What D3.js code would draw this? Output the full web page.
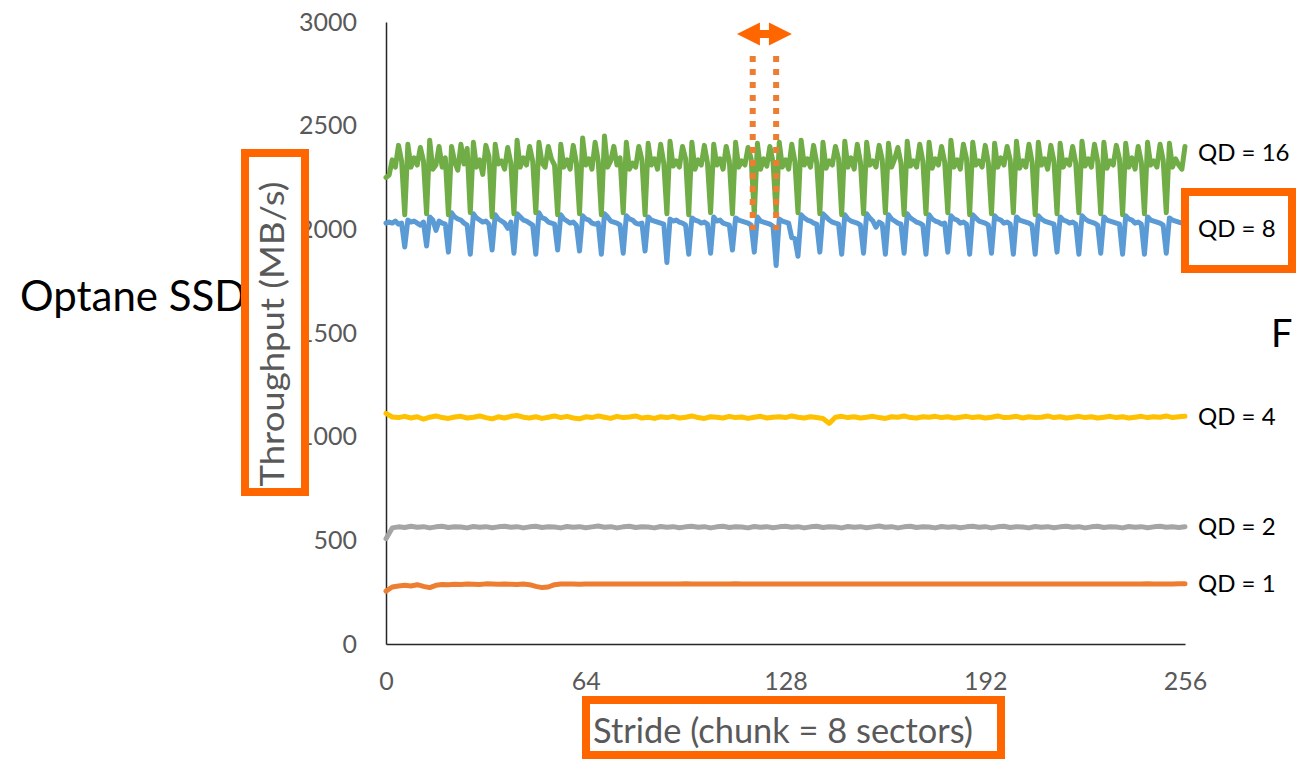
<!DOCTYPE html>
<html>
<head>
<meta charset="utf-8">
<script src="https://cdn.jsdelivr.net/npm/d3@7"></script>
<style>
  html, body { margin: 0; padding: 0; background: #fff; }
  svg { display: block; font-family: Lato, "Open Sans", sans-serif; }
</style>
</head>
<body>
<div id="chart"></div>
<script>
// throughput (MB/s) per stride
// qd16 / qd8 sampled at every stride 0..256
const qd16 = [
  2250, 2262, 2335, 2300, 2405, 2330, 2070,
  2410, 2300, 2345, 2310, 2395, 2330, 2075,
  2430, 2290, 2310, 2400, 2300, 2345, 2070,
  2400, 2325, 2285, 2410, 2315, 2390, 2080,
  2420, 2300, 2335, 2265, 2405, 2350, 2060,
  2410, 2315, 2330, 2290, 2395, 2320, 2075,
  2430, 2300, 2345, 2310, 2400, 2330, 2080,
  2420, 2320, 2300, 2400, 2340, 2310, 2070,
  2410, 2300, 2335, 2290, 2405, 2320, 2075,
  2440, 2310, 2340, 2290, 2420, 2330, 2070,
  2450, 2300, 2330, 2400, 2310, 2345, 2080,
  2420, 2290, 2320, 2300, 2400, 2335, 2070,
  2415, 2310, 2340, 2290, 2410, 2320, 2075,
  2425, 2305, 2330, 2300, 2400, 2340, 2070,
  2420, 2290, 2335, 2310, 2405, 2320, 2080,
  2410, 2310, 2340, 2290, 2400, 2330, 2075,
  2420, 2300, 2330, 2310, 2395, 2340, 2070,
  2415, 2290, 2340, 2305, 2400, 2325, 2075,
  2420, 2300, 2335, 2290, 2410, 2330, 2080,
  2430, 2310, 2340, 2300, 2405, 2320, 2075,
  2420, 2295, 2330, 2310, 2400, 2340, 2070,
  2425, 2300, 2345, 2290, 2410, 2325, 2075,
  2420, 2310, 2330, 2300, 2405, 2335, 2080,
  2415, 2300, 2340, 2395, 2320, 2070,
  2425, 2305, 2330, 2300, 2410, 2330, 2075,
  2420, 2295, 2340, 2310, 2400, 2325, 2080,
  2430, 2300, 2335, 2290, 2410, 2340, 2070,
  2420, 2310, 2330, 2300, 2405, 2320, 2075,
  2415, 2300, 2345, 2310, 2400, 2335, 2080,
  2425, 2295, 2330, 2300, 2410, 2325, 2070,
  2420, 2310, 2340, 2290, 2405, 2330, 2075,
  2415, 2300, 2335, 2310, 2400, 2320, 2080,
  2425, 2305, 2340, 2300, 2410, 2330, 2075,
  2420, 2295, 2330, 2310, 2405, 2340, 2070,
  2415, 2300, 2345, 2290, 2400, 2325, 2075,
  2420, 2310, 2330, 2300, 2410, 2335, 2080,
  2415, 2300, 2340, 2310, 2290, 2400
];

const qd8 = [
  2030, 2035, 2030, 2040, 2025, 2030, 1915,
  2045, 2035, 2040, 2030, 2020, 2035, 1920,
  2060, 2045, 1995, 2040, 2030, 2025, 1890,
  2080, 2060, 2050, 2045, 2030, 2020, 1880,
  2075, 2055, 2045, 2035, 2040, 2025, 1900,
  2070, 2050, 2040, 2030, 2005, 2035, 1885,
  2075, 2060, 2045, 2040, 2030, 2020, 1880,
  2080, 2055, 2050, 2035, 2030, 2025, 1900,
  2070, 2050, 2040, 2030, 2035, 2020, 1895,
  2065, 2050, 2045, 2030, 2025, 2030, 1880,
  2075, 2060, 2040, 2035, 2030, 2020, 1885,
  2065, 2050, 2045, 2030, 2025, 2030, 1895,
  2060, 2045, 2040, 2035, 2030, 2025, 1840,
  2050, 2040, 2045, 2035, 2030, 2020, 1880,
  2055, 2045, 2040, 2030, 2035, 2025, 1885,
  2060, 2040, 2045, 2030, 2025, 2020, 1900,
  2055, 2045, 2040, 2035, 2030, 2020, 1890,
  2060, 2040, 2035, 2030, 2025, 2015, 1825,
  2050, 2040, 2035, 2030, 1960, 1955, 1870,
  2070, 2055, 2045, 2040, 2030, 2025, 1890,
  2075, 2060, 2045, 2035, 2030, 2025, 1880,
  2070, 2050, 2040, 2035, 2030, 2020, 1885,
  2075, 2055, 2040, 2010, 2035, 2025, 1880,
  2070, 2050, 2040, 2030, 2025, 1885,
  2075, 2055, 2045, 2035, 2030, 2020, 1880,
  2070, 2050, 2040, 2035, 2025, 2030, 1890,
  2065, 2050, 2045, 2030, 2035, 2025, 1880,
  2070, 2055, 2040, 2035, 2030, 2020, 1885,
  2065, 2050, 2045, 2030, 2035, 2025, 1880,
  2060, 2045, 2040, 2035, 2030, 2020, 1880,
  2065, 2050, 2040, 2035, 2030, 2025, 1890,
  2060, 2045, 2040, 2030, 2035, 2025, 1880,
  2065, 2050, 2040, 2035, 2030, 2020, 1885,
  2060, 2045, 2040, 2035, 2030, 2025, 1880,
  2065, 2050, 2045, 2030, 2035, 2025, 1880,
  2060, 2045, 2040, 2035, 2030, 2020, 1885,
  2055, 2045, 2040, 2035, 2030, 2025
];

// qd4 / qd2 / qd1 sampled every 2 strides
const qd4 = [
  1112, 1095, 1092, 1098, 1090, 1096, 1085, 1094, 1100, 1092,
  1088, 1095, 1098, 1090, 1094, 1100, 1092, 1086, 1096, 1090,
  1098, 1102, 1094, 1090, 1096, 1088, 1094, 1100, 1092, 1098,
  1090, 1086, 1096, 1092, 1100, 1094, 1088, 1098, 1092, 1095,
  1100, 1090, 1094, 1088, 1096, 1092, 1098, 1090, 1094, 1100,
  1092, 1088, 1096, 1094, 1090, 1098, 1092, 1095, 1088, 1094,
  1098, 1090, 1094, 1096, 1092, 1100, 1094, 1090, 1096, 1092,
  1088, 1064, 1094, 1098, 1092, 1096, 1090, 1094, 1098, 1092,
  1088, 1096, 1094, 1100, 1092, 1090, 1096, 1094, 1098, 1092,
  1096, 1090, 1094, 1098, 1092, 1096, 1090, 1094, 1100, 1092,
  1094, 1098, 1090, 1096, 1092, 1094, 1100, 1092, 1096, 1090,
  1094, 1098, 1092, 1096, 1090, 1094, 1098, 1092, 1096, 1090,
  1094, 1098, 1092, 1096, 1094, 1100, 1092, 1096, 1098
];

const qd2 = [
  508, 560, 565, 562, 568, 563, 566, 560, 565, 568,
  562, 566, 564, 560, 567, 563, 566, 561, 565, 568,
  563, 566, 560, 565, 568, 562, 566, 564, 560, 567,
  563, 566, 561, 565, 569, 563, 566, 560, 565, 568,
  562, 566, 564, 560, 567, 563, 566, 561, 565, 568,
  563, 566, 560, 565, 568, 562, 566, 564, 560, 567,
  563, 566, 561, 565, 568, 563, 566, 560, 565, 568,
  562, 566, 564, 560, 567, 563, 566, 561, 565, 569,
  563, 566, 560, 565, 568, 562, 566, 564, 560, 567,
  563, 566, 561, 565, 568, 563, 566, 560, 565, 568,
  562, 566, 564, 560, 567, 563, 566, 561, 565, 568,
  563, 566, 560, 565, 568, 562, 566, 564, 560, 567,
  563, 566, 561, 565, 568, 563, 566, 562, 565
];

const qd1 = [
  255, 275, 280, 283, 280, 286, 278, 272, 283, 287,
  286, 288, 287, 289, 288, 287, 290, 289, 288, 289,
  288, 287, 289, 286, 278, 272, 275, 286, 289, 289,
  289, 288, 289, 289, 289, 289, 289, 289, 289, 289,
  289, 289, 289, 289, 289, 289, 289, 289, 291, 289,
  289, 289, 289, 289, 289, 289, 291, 289, 289, 289,
  289, 289, 289, 289, 289, 289, 289, 289, 289, 289,
  289, 289, 289, 289, 289, 289, 289, 289, 289, 289,
  289, 289, 289, 289, 289, 289, 289, 289, 289, 289,
  289, 289, 289, 289, 289, 289, 289, 289, 289, 289,
  289, 289, 289, 289, 289, 289, 289, 289, 289, 289,
  289, 289, 289, 289, 289, 289, 289, 289, 289, 289,
  289, 289, 291, 289, 289, 289, 289, 290, 290
];

const seriesNames = ["QD = 1", "QD = 2", "QD = 4", "QD = 8", "QD = 16"];
const seriesColors = ["#ED7D31", "#A5A5A5", "#FFC000", "#5B9BD5", "#70AD47"];
const seriesStep = [2, 2, 2, 1, 1];
const seriesValues = [qd1, qd2, qd4, qd8, qd16];
// value where each series label sits, next to the line end
const labelValues = [289, 565, 1095, 2005, 2370];

const xTicks = [0, 64, 128, 192, 256];
const yTicks = [0, 500, 1000, 1500, 2000, 2500, 3000];

// strides marked by the dotted lines and the arrow
const markStrides = [117.5, 125];

class StrideChartD3 {
    margin = {top: 22, right: 111, bottom: 116, left: 386};
    size = {width: 1296, height: 760};
    axisColor = "#262626";
    textColor = "#595959";
    boxColor = "#FF6600";

    constructor(el){
        this.el = el;
    }

    create(){
        this.width = this.size.width - this.margin.left - this.margin.right;
        this.height = this.size.height - this.margin.top - this.margin.bottom;

        this.svg = d3.select(this.el).append("svg")
            .attr("width", this.size.width)
            .attr("height", this.size.height);

        this.plotG = this.svg.append("g")
            .attr("transform", "translate(" + this.margin.left + "," + this.margin.top + ")");

        this.xScale = d3.scaleLinear().domain([0, 256]).range([0, this.width]);
        this.yScale = d3.scaleLinear().domain([0, 3000]).range([this.height, 0]);
    }

    renderAxes(){
        // y axis: line plus grey labels, no tick marks
        const yAxisG = this.plotG.append("g")
            .call(d3.axisLeft(this.yScale).tickValues(yTicks).tickFormat(d3.format("d"))
                .tickSize(0).tickPadding(29));
        yAxisG.select(".domain").attr("stroke", this.axisColor).attr("stroke-width", 1.5);
        yAxisG.selectAll("text")
            .attr("fill", this.textColor)
            .style("font-size", "25px")
            .style("font-family", "Lato");

        const xAxisG = this.plotG.append("g")
            .attr("transform", "translate(0," + this.height + ")")
            .call(d3.axisBottom(this.xScale).tickValues(xTicks).tickSize(0).tickPadding(28));
        xAxisG.select(".domain").attr("stroke", this.axisColor).attr("stroke-width", 1.5);
        xAxisG.selectAll("text")
            .attr("fill", this.textColor)
            .style("font-size", "25px")
            .style("font-family", "Lato");
    }

    renderLines(){
        const line = d3.line()
            .x(d => this.xScale(d.stride))
            .y(d => this.yScale(d.value));

        const data = seriesValues.map((vals, i) => ({
            name: seriesNames[i],
            color: seriesColors[i],
            labelValue: labelValues[i],
            points: vals.map((v, j) => ({stride: j * seriesStep[i], value: v}))
        }));

        this.plotG.selectAll(".seriesLine")
            .data(data)
            .join("path")
            .attr("class", "seriesLine")
            .attr("fill", "none")
            .attr("stroke", d => d.color)
            .attr("stroke-width", 5)
            .attr("stroke-linejoin", "round")
            .attr("stroke-linecap", "round")
            .attr("d", d => line(d.points));

        // series labels at the right end of each line
        this.plotG.selectAll(".seriesLabel")
            .data(data)
            .join("text")
            .attr("class", "seriesLabel")
            .attr("x", this.xScale(256) + 13)
            .attr("y", d => this.yScale(d.labelValue))
            .attr("dy", "0.35em")
            .attr("fill", "#000")
            .style("font-size", "24px")
            .text(d => d.name);
    }

    renderAnnotations(){
        const svg = this.svg;
        const ox = this.margin.left;

        // "Optane SSD" sits behind the y-label box
        svg.append("text")
            .attr("x", 20).attr("y", 311)
            .attr("fill", "#000")
            .style("font-size", "42px")
            .text("Optane SSD");

        svg.append("text")
            .attr("x", 1271).attr("y", 347)
            .attr("fill", "#000")
            .style("font-size", "38px")
            .text("F");

        // y label in its orange box
        svg.append("rect")
            .attr("x", 245).attr("y", 153).attr("width", 60).attr("height", 339)
            .attr("fill", "#fff").attr("stroke", this.boxColor).attr("stroke-width", 8);
        svg.append("text")
            .attr("transform", "translate(284,334) rotate(-90)")
            .attr("text-anchor", "middle")
            .attr("fill", this.textColor)
            .attr("textLength", 305)
            .attr("lengthAdjust", "spacingAndGlyphs")
            .style("font-size", "33px")
            .text("Throughput (MB/s)");

        // x label in its orange box
        svg.append("rect")
            .attr("x", 586).attr("y", 700).attr("width", 415).attr("height", 55)
            .attr("fill", "#fff").attr("stroke", this.boxColor).attr("stroke-width", 8);
        svg.append("text")
            .attr("x", 783).attr("y", 743)
            .attr("text-anchor", "middle")
            .attr("fill", this.textColor)
            .attr("textLength", 380)
            .attr("lengthAdjust", "spacingAndGlyphs")
            .style("font-size", "34px")
            .text("Stride (chunk = 8 sectors)");

        // box around the QD = 8 label
        svg.append("rect")
            .attr("x", 1185).attr("y", 192).attr("width", 107).attr("height", 77)
            .attr("fill", "none").attr("stroke", this.boxColor).attr("stroke-width", 8);

        // dotted markers and the double arrow above them
        const mx = markStrides.map(s => ox + this.xScale(s));
        svg.selectAll(".markLine")
            .data(mx)
            .join("line")
            .attr("class", "markLine")
            .attr("x1", d => d).attr("x2", d => d)
            .attr("y1", 56).attr("y2", 230)
            .attr("stroke", "#ED7D31")
            .attr("stroke-width", 6)
            .attr("stroke-dasharray", "6,7");

        const cx = (mx[0] + mx[1]) / 2, cy = 34;
        const half = 27.5, head = 23, hh = 11.5, sh = 4;
        const arrow = d3.path();
        arrow.moveTo(cx - half, cy);
        arrow.lineTo(cx - half + head, cy - hh);
        arrow.lineTo(cx - half + head, cy - sh);
        arrow.lineTo(cx + half - head, cy - sh);
        arrow.lineTo(cx + half - head, cy - hh);
        arrow.lineTo(cx + half, cy);
        arrow.lineTo(cx + half - head, cy + hh);
        arrow.lineTo(cx + half - head, cy + sh);
        arrow.lineTo(cx - half + head, cy + sh);
        arrow.lineTo(cx - half + head, cy + hh);
        arrow.closePath();
        svg.append("path")
            .attr("d", arrow.toString())
            .attr("fill", this.boxColor);
    }
}

const chart = new StrideChartD3(document.getElementById("chart"));
chart.create();
chart.renderAxes();
chart.renderLines();
chart.renderAnnotations();
</script>
</body>
</html>
